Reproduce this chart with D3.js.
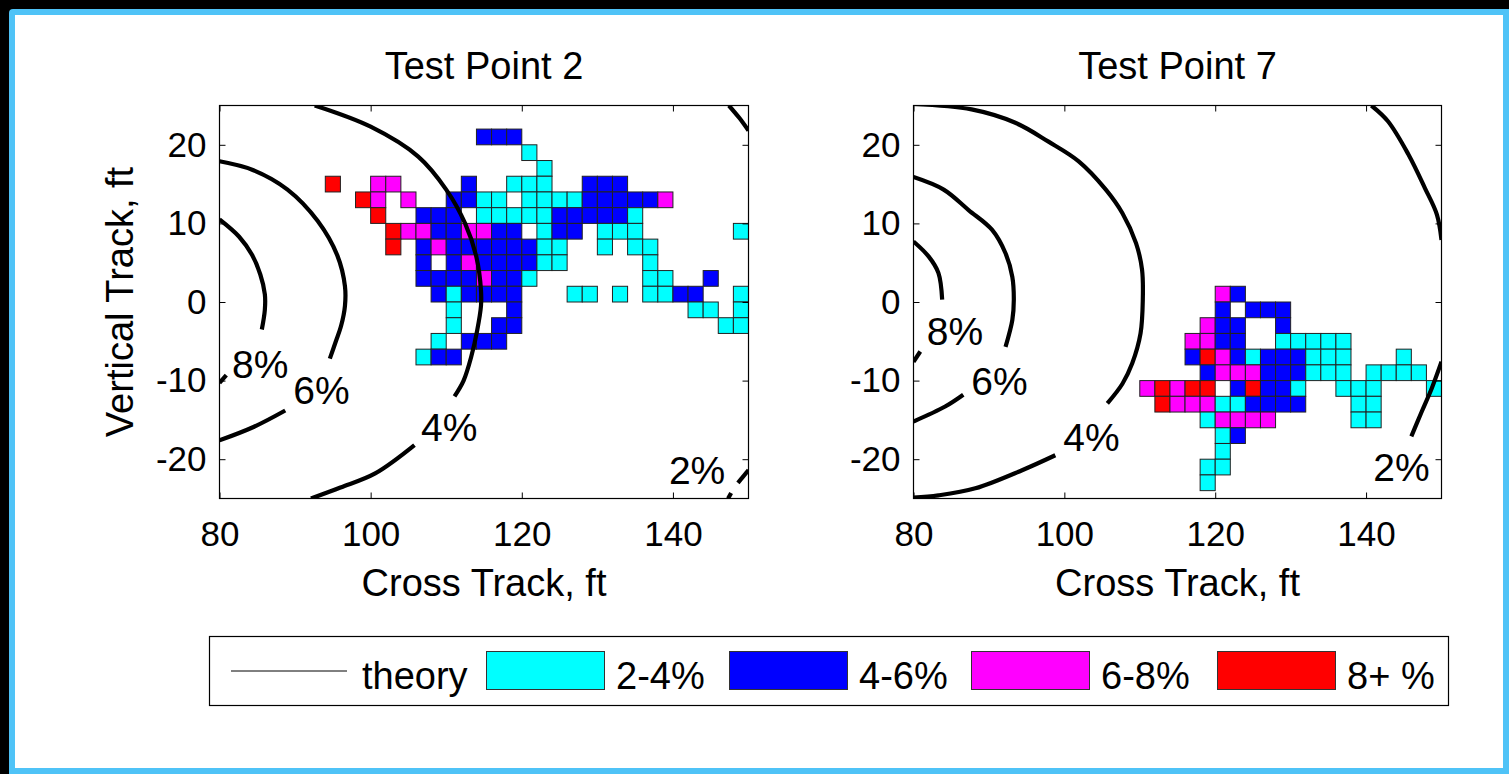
<!DOCTYPE html>
<html><head><meta charset="utf-8">
<script src="https://cdn.jsdelivr.net/npm/d3@7"></script>
<style>html,body{margin:0;padding:0;background:#000;overflow:hidden}svg{display:block}</style>
</head><body>
<script>
// ---------- data ----------
const binLabels = ["2-4%", "4-6%", "6-8%", "8+ %"];
const binColors = ["#00ffff", "#0000ff", "#ff00ff", "#ff0000"];
const xTicks = [80, 100, 120, 140];
const yTicks = [-20, -10, 0, 10, 20];
const xDomain = [80, 150];
const yDomain = [-25, 25];
const cellSize = 2; // ft
const titles = ["Test Point 2", "Test Point 7"];

// cells: [x0, y0, bin]  (bin index into binLabels)
const tp2Cells = [
 [114,20,1],[116,20,1],[118,20,1],
 [120,18,0],
 [122,16,0],
 [94,14,3],[100,14,2],[102,14,2],[112,14,1],[118,14,0],[120,14,0],[122,14,0],[128,14,1],[130,14,1],[132,14,1],
 [98,12,3],[100,12,2],[104,12,2],[110,12,1],[112,12,1],[114,12,0],[116,12,0],[120,12,0],[122,12,0],[124,12,0],[126,12,0],[128,12,1],[130,12,1],[132,12,1],[134,12,1],[136,12,1],[138,12,2],
 [100,10,3],[106,10,1],[108,10,1],[110,10,1],[114,10,0],[116,10,0],[118,10,0],[120,10,0],[122,10,0],[124,10,1],[126,10,1],[128,10,1],[130,10,1],[132,10,1],[134,10,0],
 [102,8,3],[104,8,2],[106,8,2],[108,8,1],[110,8,1],[112,8,2],[114,8,2],[116,8,1],[118,8,1],[122,8,0],[124,8,1],[126,8,1],[130,8,0],[132,8,0],[134,8,0],[148,8,0],
 [102,6,3],[106,6,1],[108,6,2],[110,6,1],[112,6,1],[114,6,1],[116,6,1],[118,6,1],[120,6,1],[122,6,0],[124,6,0],[130,6,0],[134,6,0],[136,6,0],
 [106,4,1],[110,4,1],[112,4,2],[114,4,1],[116,4,1],[118,4,1],[120,4,1],[122,4,0],[124,4,0],[136,4,0],
 [106,2,1],[108,2,1],[110,2,1],[112,2,1],[114,2,2],[116,2,1],[118,2,1],[120,2,0],[136,2,0],[138,2,0],[144,2,1],
 [108,0,1],[110,0,0],[112,0,1],[114,0,1],[116,0,1],[118,0,1],[126,0,0],[128,0,0],[132,0,0],[136,0,0],[138,0,0],[140,0,1],[142,0,1],[148,0,0],
 [110,-2,0],[118,-2,1],[142,-2,0],[144,-2,0],[148,-2,0],
 [110,-4,0],[116,-4,1],[118,-4,1],[146,-4,0],[148,-4,0],
 [108,-6,0],[112,-6,1],[114,-6,1],[116,-6,1],
 [106,-8,0],[108,-8,1],[110,-8,1]
];
const tp7Cells = [
 [120,0,2],[122,0,1],
 [120,-2,1],[124,-2,1],[126,-2,1],[128,-2,1],
 [118,-4,2],[120,-4,1],[122,-4,1],[128,-4,1],
 [116,-6,2],[118,-6,2],[120,-6,1],[122,-6,1],[128,-6,0],[130,-6,0],[132,-6,0],[134,-6,0],[136,-6,0],
 [116,-8,1],[118,-8,3],[120,-8,2],[122,-8,1],[124,-8,0],[126,-8,1],[128,-8,1],[130,-8,1],[132,-8,0],[134,-8,0],[136,-8,0],[144,-8,0],
 [118,-10,1],[120,-10,2],[122,-10,2],[124,-10,2],[126,-10,1],[128,-10,1],[130,-10,1],[132,-10,0],[134,-10,0],[136,-10,0],[140,-10,0],[142,-10,0],[144,-10,0],[146,-10,0],
 [110,-12,2],[112,-12,3],[114,-12,2],[116,-12,3],[118,-12,3],[122,-12,1],[124,-12,3],[126,-12,1],[128,-12,1],[130,-12,0],[136,-12,0],[138,-12,0],[140,-12,0],[148,-12,0],
 [112,-14,3],[114,-14,2],[116,-14,2],[118,-14,2],[120,-14,0],[122,-14,0],[124,-14,1],[126,-14,1],[128,-14,1],[130,-14,1],[138,-14,0],[140,-14,0],
 [118,-16,0],[120,-16,2],[122,-16,2],[124,-16,2],[126,-16,2],[138,-16,0],[140,-16,0],
 [120,-18,0],[122,-18,1],
 [120,-20,0],
 [118,-22,0],[120,-22,0],
 [118,-24,0]
];

// theory contours: list of line segments (gaps where labels sit)
const tp2Contours = [
 [[80,10.5],[82.6,8.3],[84.3,6],[85.4,3.5],[86,1],[86,-1],[85.6,-3.5]],
 [[80,-10.3],[80.9,-9.3]],
 [[80,17.9],[84.4,16.8],[89,14.3],[93,10.3],[95.6,5.9],[96.6,2],[96.6,-0.5],[96.1,-3],[95.4,-5],[94.6,-7.2]],
 [[88.7,-13.8],[84.5,-15.9],[80,-17.6]],
 [[92.6,25],[100,22.3],[106.3,18.5],[110,14.3],[112.5,10],[114,5.7],[114.6,1.5],[114.6,-0.5],[114.1,-3.6],[113.3,-7],[112.3,-10],[111.1,-12]],
 [[105.8,-18.2],[100.6,-21.8],[96,-23.6],[92.1,-25]],
 [[147.4,25],[148.8,23.4],[150,21.8]],
 [[150,-21.4],[148.6,-23]],
 [[147.7,-24.3],[147.3,-25]]
];
const tp7Contours = [
 [[80,7.7],[82,5.8],[83.3,3.7],[83.8,0.3]],
 [[80.9,-6.3],[80,-7.6]],
 [[80,15.9],[84,14.3],[87.3,11.7],[90.4,9.2],[92.2,6.2],[93.1,3.2],[93.3,0.3],[93.1,-2.3],[92.2,-5.7]],
 [[86.6,-11.8],[84.2,-13.3],[80,-15.2]],
 [[80,25.2],[87.7,24.5],[93.5,22.8],[97.9,20.4],[101.9,17.9],[105.5,14.3],[107.7,11.3],[109.5,7.5],[110.3,4.1],[110.4,0.3],[110.1,-4],[109,-7.8],[107.7,-10.4],[105.7,-12.9]],
 [[98.8,-19.5],[94.4,-21.4],[88.2,-23.7],[83.3,-24.6],[80,-24.9]],
 [[140.7,25],[142.9,23],[145.6,18.8],[147.8,14.5],[149.4,11.1],[150,7.9]],
 [[150,-7.6],[148.7,-11],[147.4,-13.9],[146,-17.1]]
];
const tp2ContourLabels = [["8%",85.4,-7.9],["6%",93.5,-11.2],["4%",110.4,-16],["2%",143.2,-21.4]];
const tp7ContourLabels = [["8%",85.5,-3.8],["6%",91.4,-10.1],["4%",103.6,-17.2],["2%",144.7,-21.1]];
const legendLineLabel = "theory";

// ---------- drawing ----------
const W = 1509, H = 774;
const FONT = "'Liberation Sans', Arial, Helvetica, sans-serif";
const svg = d3.select("body").append("svg").attr("width", W).attr("height", H)
  .style("font-family", FONT);

svg.append("rect").attr("width", W).attr("height", H).attr("fill", "#000");
svg.append("rect").attr("x", 9).attr("y", 9).attr("width", W).attr("height", H).attr("rx", 4).attr("fill", "#4fc3f7");
svg.append("rect").attr("x", 15).attr("y", 15).attr("width", 1488).attr("height", 753).attr("fill", "#fff");

const plotTop = 105.5, plotBottom = 498.5;
const panels = [
  {title: titles[0], cells: tp2Cells, contours: tp2Contours, labels: tp2ContourLabels, left: 219.5, right: 748.5, ylabel: true},
  {title: titles[1], cells: tp7Cells, contours: tp7Contours, labels: tp7ContourLabels, left: 913.5, right: 1441.5, ylabel: false}
];
const fmt = d => String(d); // plain hyphen-minus like the original

panels.forEach((p, i) => {
  const x = d3.scaleLinear().domain(xDomain).range([p.left, p.right]);
  const y = d3.scaleLinear().domain(yDomain).range([plotBottom, plotTop]);
  const g = svg.append("g");
  const clipId = "clip" + i;
  g.append("clipPath").attr("id", clipId).append("rect")
    .attr("x", p.left).attr("y", plotTop).attr("width", p.right - p.left).attr("height", plotBottom - plotTop);

  const plot = g.append("g").attr("clip-path", `url(#${clipId})`);
  plot.selectAll("rect.cell").data(p.cells).join("rect").attr("class", "cell")
    .attr("x", d => x(d[0])).attr("y", d => y(d[1] + cellSize))
    .attr("width", d => x(d[0] + cellSize) - x(d[0]))
    .attr("height", d => y(d[1]) - y(d[1] + cellSize))
    .attr("fill", d => binColors[d[2]])
    .attr("stroke", "#222").attr("stroke-width", 1);

  const line = d3.line().x(d => x(d[0])).y(d => y(d[1])).curve(d3.curveCatmullRom.alpha(0.5));
  plot.selectAll("path.contour").data(p.contours).join("path").attr("class", "contour")
    .attr("d", line).attr("fill", "none").attr("stroke", "#000").attr("stroke-width", 4.2)
    .attr("stroke-linecap", "butt").attr("stroke-linejoin", "round");

  g.selectAll("text.clabel").data(p.labels).join("text").attr("class", "clabel")
    .attr("x", d => x(d[1])).attr("y", d => y(d[2]))
    .attr("text-anchor", "middle").attr("dominant-baseline", "central")
    .attr("font-size", 39).attr("fill", "#000").text(d => d[0]);

  // axes (ticks inward, on all four sides)
  const axL = d3.axisLeft(y).tickValues(yTicks).tickFormat(fmt).tickSize(-6).tickSizeOuter(0).tickPadding(13);
  const axR = d3.axisRight(y).tickValues(yTicks).tickSize(-6).tickSizeOuter(0).tickFormat("");
  const axB = d3.axisBottom(x).tickValues(xTicks).tickFormat(fmt).tickSize(-6).tickSizeOuter(0).tickPadding(23);
  const axT = d3.axisTop(x).tickValues(xTicks).tickSize(-6).tickSizeOuter(0).tickFormat("");
  const styleAx = sel => {
    sel.select(".domain").remove();
    sel.selectAll(".tick line").attr("stroke", "#000").attr("stroke-width", 1);
    sel.selectAll(".tick text").attr("fill", "#000").attr("font-size", 35).attr("font-family", FONT);
  };
  g.append("g").attr("transform", `translate(${p.left},0)`).call(axL).call(styleAx);
  g.append("g").attr("transform", `translate(${p.right},0)`).call(axR).call(styleAx);
  g.append("g").attr("transform", `translate(0,${plotBottom})`).call(axB).call(styleAx);
  g.append("g").attr("transform", `translate(0,${plotTop})`).call(axT).call(styleAx);

  g.append("rect").attr("x", p.left).attr("y", plotTop).attr("width", p.right - p.left)
    .attr("height", plotBottom - plotTop).attr("fill", "none").attr("stroke", "#000").attr("stroke-width", 1.2);

  const cx = (p.left + p.right) / 2;
  g.append("text").attr("x", cx).attr("y", 79).attr("text-anchor", "middle")
    .attr("font-size", 38).attr("fill", "#000").text(p.title);
  g.append("text").attr("x", cx).attr("y", 596).attr("text-anchor", "middle")
    .attr("font-size", 38).attr("fill", "#000").text("Cross Track, ft");
  if (p.ylabel) {
    g.append("text").attr("transform", `translate(133,${(plotTop + plotBottom) / 2}) rotate(-90)`)
      .attr("text-anchor", "middle").attr("font-size", 38).attr("fill", "#000").text("Vertical Track, ft");
  }
});

// ---------- legend ----------
const lg = svg.append("g");
lg.append("rect").attr("x", 209.5).attr("y", 636.5).attr("width", 1239).attr("height", 69)
  .attr("fill", "#fff").attr("stroke", "#000").attr("stroke-width", 1.2);
lg.append("line").attr("x1", 231).attr("x2", 347).attr("y1", 671).attr("y2", 671)
  .attr("stroke", "#000").attr("stroke-width", 1);
lg.append("text").attr("x", 362).attr("y", 689).attr("font-size", 38).attr("fill", "#000").text(legendLineLabel);
const legendX = [486, 729, 971, 1217];
binLabels.forEach((lab, i) => {
  lg.append("rect").attr("x", legendX[i] + 0.5).attr("y", 651.5).attr("width", 118).attr("height", 38)
    .attr("fill", binColors[i]).attr("stroke", "#333").attr("stroke-width", 1);
  lg.append("text").attr("x", legendX[i] + 130).attr("y", 689).attr("font-size", 38).attr("fill", "#000").text(lab);
});
</script>
</body></html>
